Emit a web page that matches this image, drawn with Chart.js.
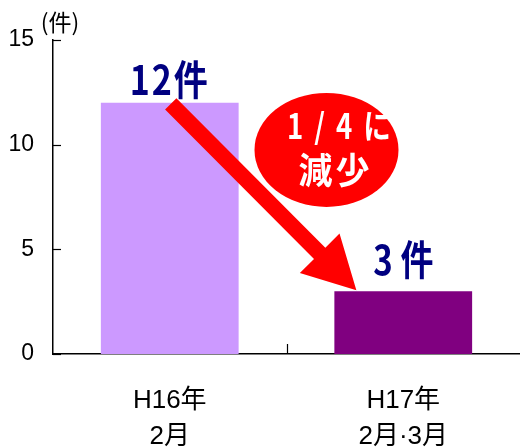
<!DOCTYPE html>
<html><head><meta charset="utf-8">
<script src="https://cdn.jsdelivr.net/npm/chart.js@4/dist/chart.umd.min.js"></script>
<style>html,body{margin:0;padding:0;background:#fff;}canvas{display:block;}</style>
</head><body>
<canvas id="c" width="520" height="447"></canvas>
<script>
const categories = [["H16年","2月"],["H17年","2月·3月"]];
const values = [12, 3];
const barColors = ["#CC99FF", "#800080"];
const yTicks = [0, 5, 10, 15];
const unitLabel = "(件)";
const valueLabels = ["12件", "3件"];
const calloutLines = ["1/4に", "減少"];

const SANS = "'Liberation Sans','Noto Sans CJK JP',sans-serif";
const CJK = "'Noto Sans CJK JP','Liberation Sans',sans-serif";

function stretchText(ctx, text, x, y, sx, sy) {
  ctx.save();
  ctx.translate(x, y);
  ctx.scale(sx, sy);
  ctx.fillText(text, 0, 0);
  ctx.restore();
}

const overlay = {
  id: 'overlay',
  afterDraw(chart) {
    const ctx = chart.ctx, xs = chart.scales.x, ys = chart.scales.y, a = chart.chartArea;
    ctx.save();
    ctx.strokeStyle = '#000'; ctx.lineWidth = 1.2;
    yTicks.forEach(v => {
      const y = Math.round(ys.getPixelForValue(v)) + 0.5;
      ctx.beginPath(); ctx.moveTo(a.left, y); ctx.lineTo(a.left + 8, y); ctx.stroke();
    });
    const mid = (xs.getPixelForValue(0) + xs.getPixelForValue(1)) / 2;
    ctx.beginPath(); ctx.moveTo(Math.round(mid) + 0.5, a.bottom); ctx.lineTo(Math.round(mid) + 0.5, a.bottom - 10); ctx.stroke();
    ctx.fillStyle = '#000'; ctx.font = "23px " + CJK; ctx.textAlign = 'center'; ctx.textBaseline = 'middle';
    ctx.fillText(unitLabel, 60, 22);

    const x1 = xs.getPixelForValue(0), x2 = xs.getPixelForValue(1);
    const y1 = ys.getPixelForValue(values[0]), y2 = ys.getPixelForValue(values[1]);
    const meta = chart.getDatasetMeta(0);
    const bw = meta.data[1].width;

    const sx = x1 + 1, sy = y1 + 1;
    const tx = x2 - bw / 2 + 22, ty = y2 - 1;
    const dx = tx - sx, dy = ty - sy, L = Math.hypot(dx, dy);
    const ux = dx / L, uy = dy / L, nx = -uy, ny = ux;
    const sw = 8, hl = 52, hw = 28;
    const bx = tx - ux * hl, by = ty - uy * hl;
    ctx.fillStyle = '#FF0000';
    ctx.beginPath();
    ctx.moveTo(sx + nx * sw, sy + ny * sw);
    ctx.lineTo(bx + nx * sw, by + ny * sw);
    ctx.lineTo(bx + nx * hw, by + ny * hw);
    ctx.lineTo(tx, ty);
    ctx.lineTo(bx - nx * hw, by - ny * hw);
    ctx.lineTo(bx - nx * sw, by - ny * sw);
    ctx.lineTo(sx - nx * sw, sy - ny * sw);
    ctx.closePath(); ctx.fill();

    const cx = mid + 40, cy = ys.getPixelForValue(9.75);
    ctx.beginPath(); ctx.ellipse(cx, cy, 72, 57, 0, 0, Math.PI * 2); ctx.fill();
    ctx.fillStyle = '#FFFFFF';
    ctx.textAlign = 'center'; ctx.textBaseline = 'middle';
    ctx.font = "bold 30px " + CJK;
    ctx.letterSpacing = '12px';
    stretchText(ctx, calloutLines[0], cx + 18, cy - 24, 0.92, 1.15);
    ctx.letterSpacing = '3px';
    ctx.font = "bold 34px " + CJK;
    stretchText(ctx, calloutLines[1], cx + 9, cy + 20, 1.0, 1.08);

    ctx.fillStyle = '#000080'; ctx.font = "bold 34px " + CJK; ctx.textBaseline = 'alphabetic';
    ctx.letterSpacing = '2px';
    stretchText(ctx, valueLabels[0], x1, y1 - 8, 1.0, 1.2);
    ctx.letterSpacing = '8px';
    stretchText(ctx, valueLabels[1], x2 + 4, y2 - 16, 0.97, 1.2);
    ctx.restore();
  }
};

new Chart(document.getElementById('c'), {
  type: 'bar',
  data: {
    labels: categories,
    datasets: [{ data: values, backgroundColor: barColors, borderWidth: 0, categoryPercentage: 1, barPercentage: 0.59 }]
  },
  options: {
    responsive: false, animation: false,
    layout: { padding: { top: 40, right: 0, left: 0, bottom: 0 } },
    plugins: { legend: { display: false }, tooltip: { enabled: false } },
    scales: {
      x: {
        grid: { display: false, drawTicks: false },
        border: { display: true, color: '#000', width: 1.5 },
        ticks: { color: '#000', font: { size: 26, family: SANS, lineHeight: 1.385 }, padding: 29, maxRotation: 0 },
        afterFit(s) { s.height = 93; }
      },
      y: {
        min: 0, max: 15,
        afterBuildTicks(s) { s.ticks = yTicks.map(v => ({ value: v })); },
        grid: { display: false, drawTicks: false },
        border: { display: true, color: '#000', width: 1.5 },
        ticks: { color: '#000', font: { size: 23, family: SANS }, padding: 19 },
        afterFit(s) { s.width = 53; }
      }
    }
  },
  plugins: [overlay]
});
</script>
</body></html>
